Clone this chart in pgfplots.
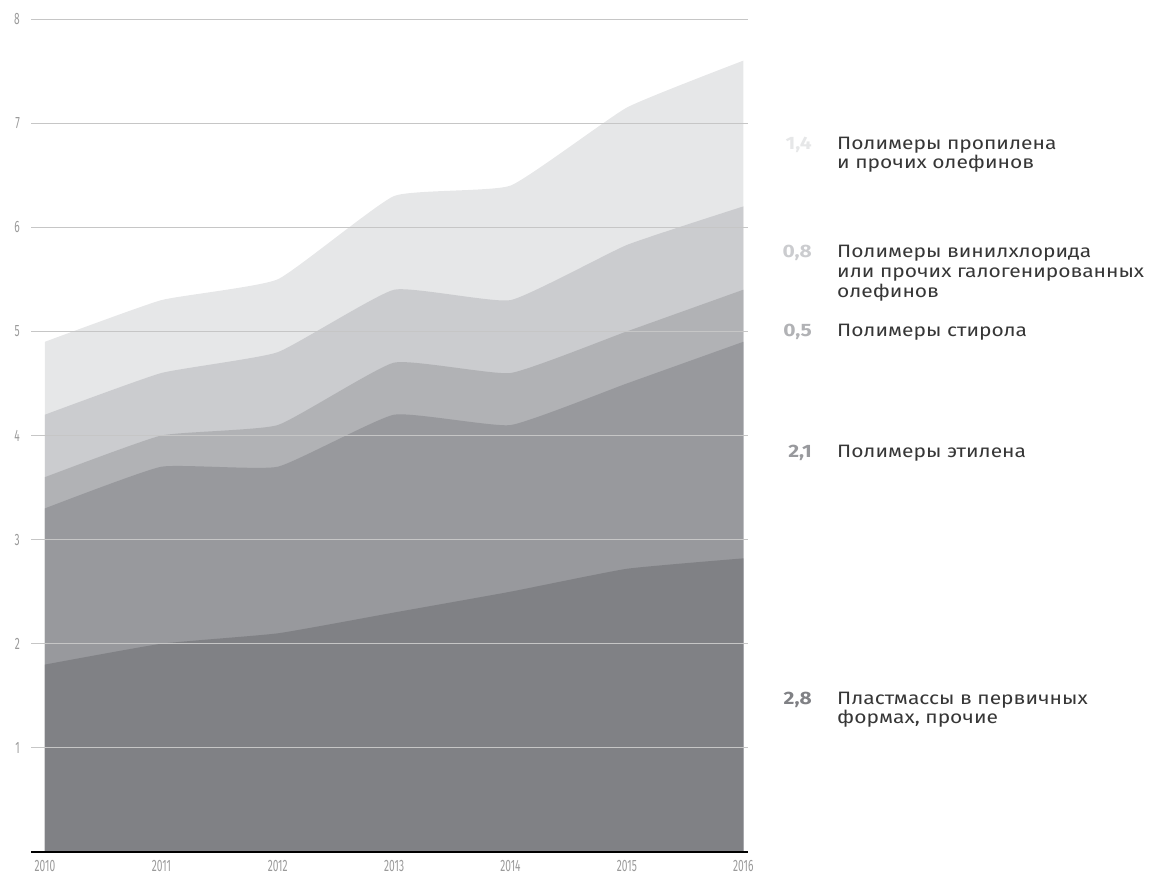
\documentclass[border=0pt]{standalone}
\usepackage{fontspec}
\setmainfont{Fira Sans}[FakeStretch=1.17]
\newfontfamily\tickfont[FakeStretch=0.62]{Fira Sans}
\usepackage{pgfplots}
\pgfplotsset{compat=1.18}
\definecolor{c1}{HTML}{808185}
\definecolor{c2}{HTML}{98999D}
\definecolor{c3}{HTML}{B1B2B5}
\definecolor{c4}{HTML}{CBCCCF}
\definecolor{c5}{HTML}{E6E7E8}
\definecolor{gridc}{HTML}{C6C6C6}
\definecolor{tickc}{HTML}{9A9A9A}
\definecolor{txt}{HTML}{363636}
\begin{document}
\begin{tikzpicture}[x=1bp,y=1bp]
\path[use as bounding box] (0,0) rectangle (1153,875);
\begin{axis}[
  at={(31bp,23bp)}, anchor=south west,
  scale only axis, width=717bp, height=833bp,
  xmin=2009.88, xmax=2016.04, ymin=0, ymax=8,
  axis lines*=left, axis line style={-},
  y axis line style={draw=none},
  x axis line style={black, line width=1.1bp},
  xtick={2010,...,2016}, ytick={1,...,8},
  major tick length=0pt,
  ymajorgrids, grid style={gridc, line width=0.9bp},
  axis on top,
  /pgf/number format/1000 sep={},
  /pgf/number format/assume math mode=true,
  tick label style={font=\tickfont\fontsize{16.5}{16.5}\selectfont, text=tickc, inner sep=0pt},
  xticklabel style={anchor=north, yshift=-8bp},
  yticklabel style={anchor=east, xshift=-11bp},
  clip=false,
]
\addplot[fill=c5, draw=none, smooth, tension=0.25] coordinates {(2010,4.9) (2011,5.3) (2012,5.5) (2013,6.3) (2014,6.4) (2015,7.15) (2016,7.6)} \closedcycle;
\addplot[fill=c4, draw=none, smooth, tension=0.25] coordinates {(2010,4.2) (2011,4.6) (2012,4.8) (2013,5.4) (2014,5.3) (2015,5.83) (2016,6.2)} \closedcycle;
\addplot[fill=c3, draw=none, smooth, tension=0.25] coordinates {(2010,3.6) (2011,4.0) (2012,4.1) (2013,4.7) (2014,4.6) (2015,5.0) (2016,5.4)} \closedcycle;
\addplot[fill=c2, draw=none, smooth, tension=0.25] coordinates {(2010,3.3) (2011,3.7) (2012,3.7) (2013,4.2) (2014,4.1) (2015,4.5) (2016,4.9)} \closedcycle;
\addplot[fill=c1, draw=none, smooth, tension=0.25] coordinates {(2010,1.8) (2011,2.0) (2012,2.1) (2013,2.3) (2014,2.5) (2015,2.72) (2016,2.82)} \closedcycle;
\end{axis}
\begin{scope}[every node/.style={inner sep=0pt, font=\fontsize{18}{20}\selectfont}]
\node[anchor=base east, text=c5, font=\bfseries\fontsize{18}{20}\selectfont] at (812,725) {1,4};
\node[anchor=base west, text=txt] at (837,725) {Полимеры пропилена};
\node[anchor=base west, text=txt] at (837,706) {и прочих олефинов};
\node[anchor=base east, text=c4, font=\bfseries\fontsize{18}{20}\selectfont] at (812,617) {0,8};
\node[anchor=base west, text=txt] at (837,617) {Полимеры винилхлорида};
\node[anchor=base west, text=txt] at (837,597) {или прочих галогенированных};
\node[anchor=base west, text=txt] at (837,577) {олефинов};
\node[anchor=base east, text=c3, font=\bfseries\fontsize{18}{20}\selectfont] at (812,538) {0,5};
\node[anchor=base west, text=txt] at (837,538) {Полимеры стирола};
\node[anchor=base east, text=c2, font=\bfseries\fontsize{18}{20}\selectfont] at (812,417) {2,1};
\node[anchor=base west, text=txt] at (837,417) {Полимеры этилена};
\node[anchor=base east, text=c1, font=\bfseries\fontsize{18}{20}\selectfont] at (812,170) {2,8};
\node[anchor=base west, text=txt] at (837,170) {Пластмассы в первичных};
\node[anchor=base west, text=txt] at (837,151) {формах, прочие};
\end{scope}
\end{tikzpicture}
\end{document}
